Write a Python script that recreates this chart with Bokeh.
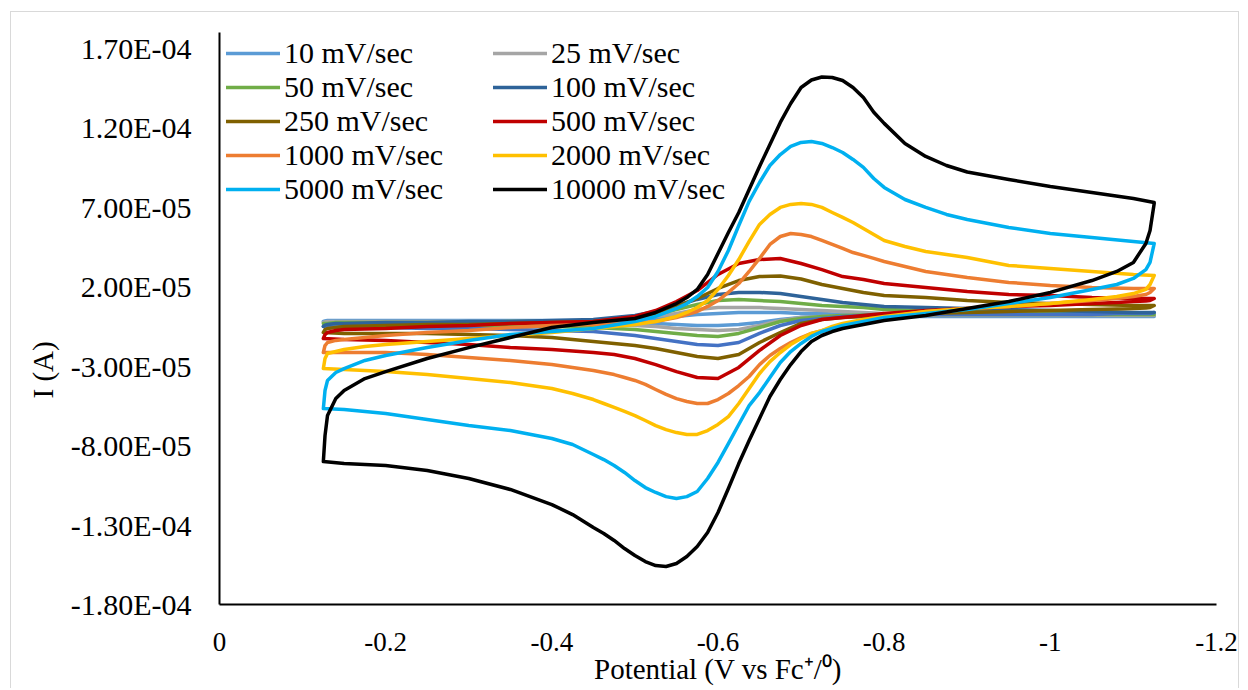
from bokeh.plotting import figure
from bokeh.models import (Range1d, FixedTicker, Legend, LegendItem, Title,
                          CustomJSTickFormatter)
from bokeh.embed import file_html
from bokeh.resources import INLINE

FONT = "Liberation Serif"

# Potential grids (V vs Fc+/0): forward (lower) branch and reverse (upper) branch
E_fwd = [-0.125, -0.15, -0.2, -0.25, -0.3, -0.35, -0.4, -0.45, -0.475, -0.5, -0.525,
         -0.55, -0.575, -0.6, -0.625, -0.65, -0.675, -0.7, -0.725, -0.75, -0.8, -0.85,
         -0.9, -0.95, -1.0, -1.05, -1.08, -1.1, -1.115, -1.12, -1.125]
E_rev = [-1.125, -1.1, -1.05, -1.0, -0.95, -0.9, -0.85, -0.8, -0.775, -0.75, -0.725,
         -0.7, -0.675, -0.65, -0.625, -0.6, -0.575, -0.55, -0.525, -0.5, -0.45, -0.4,
         -0.35, -0.3, -0.25, -0.2, -0.175, -0.15, -0.14, -0.13, -0.127, -0.125]
# denser potential grids used for the largest loops
E_fwd_fine = [-0.125, -0.15, -0.2, -0.25, -0.3, -0.35, -0.4, -0.425, -0.45, -0.4625, -0.475,
              -0.4875, -0.5, -0.5125, -0.525, -0.5375, -0.55, -0.5625, -0.575, -0.5875, -0.6,
              -0.6125, -0.625, -0.6375, -0.65, -0.6625, -0.675, -0.6875, -0.7, -0.7125, -0.725,
              -0.7375, -0.75, -0.775, -0.8, -0.85, -0.9, -0.95, -1.0, -1.05, -1.08, -1.1,
              -1.115, -1.12, -1.125]
E_rev_fine = [-1.125, -1.1, -1.05, -1.0, -0.95, -0.9, -0.875, -0.85, -0.825, -0.8, -0.7875,
              -0.775, -0.7625, -0.75, -0.7375, -0.725, -0.7125, -0.7, -0.6875, -0.675, -0.6625,
              -0.65, -0.6375, -0.625, -0.6125, -0.6, -0.5875, -0.575, -0.5625, -0.55, -0.525,
              -0.5, -0.45, -0.4, -0.35, -0.3, -0.25, -0.2, -0.175, -0.15, -0.14, -0.13, -0.127,
              -0.125]

# Currents in microamps
fwd_10 = [-1.9, -1.9, -1.9, -1.9, -1.9, -1.9, -1.9, -2.5, -2.5, -2.5, -3.1, -3.8, -4.4, -4.4, -3.8, -2.5, -0.6, 0.6, 1.3, 1.3, 1.3, 1.3, 1.3, 1.3, 1.3, 1.3, 1.3, 1.3, 1.3, 1.3, 1.3]
rev_10 = [1.3, 1.3, 1.3, 1.3, 1.3, 1.3, 1.3, 1.3, 1.9, 2.5, 3.1, 3.1, 3.8, 3.8, 3.8, 3.1, 2.5, 1.3, 0.0, -0.6, -1.3, -1.3, -1.3, -1.3, -1.3, -1.3, -1.3, -1.3, -1.3, -1.3, -1.6, -1.9]
fwd_25 = [-2.5, -2.5, -2.5, -3.1, -3.1, -3.1, -3.1, -3.8, -3.8, -4.4, -5.0, -6.3, -6.9, -7.6, -6.9, -4.4, -1.3, 0.6, 1.3, 1.9, 1.9, 1.9, 1.9, 1.9, 1.9, 1.9, 1.9, 1.9, 1.9, 1.9, 1.9]
rev_25 = [1.9, 1.9, 1.9, 1.9, 1.9, 1.9, 2.5, 3.1, 3.8, 4.4, 5.0, 5.7, 6.3, 6.9, 6.9, 6.9, 5.7, 3.1, 1.3, 0.0, -1.3, -1.9, -1.9, -1.9, -1.9, -1.9, -1.9, -1.9, -1.9, -1.9, -2.2, -2.5]
fwd_50 = [-3.1, -3.8, -3.8, -4.4, -4.4, -5.0, -5.0, -5.7, -6.3, -6.9, -8.2, -9.4, -10.7, -11.3, -9.4, -5.7, -1.9, 0.0, 1.3, 1.9, 2.5, 2.5, 2.5, 2.5, 2.5, 2.5, 2.5, 2.5, 2.5, 2.5, 2.5]
rev_50 = [2.5, 2.5, 3.1, 3.1, 3.8, 4.4, 5.0, 5.7, 6.9, 7.6, 8.2, 9.4, 10.7, 11.3, 12.0, 11.3, 8.8, 5.7, 2.5, 0.6, -1.3, -1.9, -1.9, -2.5, -2.5, -2.5, -2.5, -2.5, -2.5, -3.1, -3.1, -3.1]
fwd_100 = [-5.0, -5.7, -5.7, -6.3, -6.3, -6.9, -7.6, -8.2, -9.4, -10.7, -12.6, -14.5, -16.4, -17.0, -15.1, -9.4, -4.4, -1.3, 0.0, 1.3, 2.5, 2.5, 2.5, 2.5, 2.5, 2.5, 3.1, 3.1, 3.1, 3.1, 3.8]
rev_100 = [3.8, 3.8, 4.4, 5.0, 5.7, 6.3, 6.9, 7.6, 8.8, 10.1, 12.0, 13.8, 15.7, 16.4, 16.4, 15.1, 12.0, 8.2, 4.4, 1.9, -0.6, -1.3, -1.9, -1.9, -2.5, -2.5, -2.8, -3.1, -3.1, -3.8, -4.2, -5.0]
fwd_250 = [-8.8, -9.4, -9.4, -9.4, -10.1, -10.7, -12.0, -14.5, -15.7, -17.0, -18.9, -21.4, -23.9, -25.2, -22.7, -15.1, -8.8, -3.1, -0.6, 0.6, 1.9, 3.1, 3.8, 4.4, 5.0, 5.7, 6.0, 6.3, 6.6, 6.9, 8.2]
rev_250 = [8.2, 8.2, 8.8, 9.4, 10.1, 11.3, 13.2, 14.5, 16.4, 18.9, 21.4, 24.9, 26.8, 26.4, 23.9, 18.9, 12.6, 7.6, 3.8, 0.6, -1.9, -2.5, -3.1, -3.8, -3.8, -4.4, -4.7, -5.0, -5.7, -6.3, -7.0, -8.8]
fwd_500 = [-12.6, -13.2, -13.8, -15.1, -16.4, -18.3, -19.5, -21.4, -22.7, -25.2, -29.0, -33.4, -37.1, -37.8, -30.8, -20.1, -10.7, -4.4, -0.6, 0.6, 3.1, 5.0, 6.3, 7.6, 8.2, 9.4, 10.1, 10.7, 11.0, 11.3, 12.6]
rev_500 = [12.6, 12.6, 13.2, 14.5, 15.1, 17.0, 19.5, 22.0, 24.6, 26.4, 30.8, 34.6, 37.8, 37.1, 34.6, 27.7, 17.6, 10.7, 5.0, 1.3, -1.9, -2.5, -3.1, -4.4, -5.0, -6.3, -6.6, -6.9, -7.6, -8.8, -10.1, -12.6]
fwd_1000 = [-21.4, -21.4, -21.4, -22.7, -24.6, -26.4, -29.0, -30.8, -32.7, -34.0, -35.3, -37.1, -39.0, -41.5, -44.7, -47.8, -50.4, -52.2, -53.5, -53.5, -51.0, -47.2, -42.2, -36.5, -29.0, -23.3, -18.9, -15.1, -12.0, -9.4, -7.6, -5.7, -4.4, -1.9, 0.6, 4.4, 6.3, 7.6, 9.4, 11.3, 12.6, 13.8, 15.1, 16.4, 18.9]
rev_1000 = [18.9, 18.9, 19.5, 20.8, 22.7, 25.8, 27.7, 29.6, 32.7, 35.9, 37.8, 39.7, 41.5, 44.1, 46.6, 49.1, 51.6, 52.9, 53.5, 51.6, 46.6, 37.8, 29.6, 22.0, 16.4, 11.3, 7.6, 4.4, 2.5, 0.6, -1.9, -3.1, -3.8, -4.4, -5.7, -7.6, -8.8, -10.7, -11.9, -13.2, -13.8, -15.1, -17.0, -21.4]
fwd_2000 = [-31.5, -32.1, -33.4, -35.3, -37.8, -40.3, -44.1, -47.2, -51.0, -53.5, -56.0, -58.5, -61.1, -64.2, -67.4, -69.9, -71.8, -73.0, -73.0, -70.5, -66.7, -61.7, -53.5, -44.1, -34.6, -27.1, -21.4, -16.4, -12.6, -9.4, -7.6, -5.0, -3.1, -0.6, 1.3, 4.4, 6.3, 7.6, 9.4, 12.0, 13.8, 15.7, 18.3, 21.4, 27.1]
rev_2000 = [27.1, 27.7, 29.6, 31.5, 33.4, 38.4, 40.3, 42.2, 45.3, 49.1, 52.9, 56.7, 60.4, 63.6, 66.7, 69.9, 71.8, 72.4, 71.8, 69.9, 65.5, 59.2, 48.5, 37.1, 27.1, 18.3, 11.3, 6.9, 3.8, 1.3, -1.9, -3.8, -6.3, -8.8, -10.7, -12.6, -14.5, -16.4, -17.6, -19.5, -20.8, -22.0, -25.2, -31.5]
fwd_5000 = [-56.7, -57.3, -59.8, -63.6, -67.4, -70.5, -75.5, -79.3, -85.6, -88.8, -92.5, -96.9, -102.0, -106.4, -109.5, -112.1, -113.3, -112.1, -108.9, -100.7, -90.6, -78.7, -66.7, -54.8, -46.6, -37.1, -27.7, -20.8, -15.7, -11.3, -8.2, -6.3, -4.4, -1.9, 0.6, 3.1, 5.7, 9.4, 13.2, 18.3, 21.4, 25.2, 30.8, 35.3, 47.2]
rev_5000 = [47.2, 48.5, 51.0, 53.5, 57.3, 62.3, 65.5, 69.9, 74.9, 82.5, 88.1, 95.1, 100.1, 104.5, 107.6, 110.2, 111.4, 110.8, 108.3, 103.2, 96.3, 85.6, 73.7, 58.5, 42.8, 29.6, 19.5, 13.8, 9.4, 6.3, 1.3, -1.9, -6.3, -8.2, -10.1, -13.8, -18.3, -23.3, -26.4, -31.5, -34.0, -39.0, -45.3, -56.7]
fwd_10000 = [-90.0, -91.3, -92.5, -95.7, -100.7, -107.6, -117.1, -123.4, -131.6, -135.3, -139.7, -144.8, -149.2, -153.0, -155.5, -156.1, -154.2, -149.8, -143.5, -134.7, -122.1, -107.0, -91.3, -76.8, -62.9, -49.1, -38.4, -29.0, -20.8, -14.5, -10.7, -8.2, -6.3, -3.8, -1.3, 1.9, 6.3, 10.7, 16.4, 23.9, 29.6, 35.3, 47.2, 55.4, 72.4]
rev_10000 = [73.0, 75.5, 79.3, 83.1, 87.5, 92.2, 96.3, 102.0, 110.2, 122.8, 129.8, 139.1, 145.4, 149.8, 151.7, 152.0, 150.1, 145.4, 135.3, 123.4, 109.5, 95.7, 81.2, 66.7, 54.1, 40.9, 27.7, 18.3, 13.2, 9.4, 3.8, 0.0, -2.5, -5.7, -12.0, -18.3, -25.2, -33.4, -37.8, -45.3, -50.4, -61.1, -73.7, -90.0]

series_labels = ["10 mV/sec", "25 mV/sec", "50 mV/sec", "100 mV/sec", "250 mV/sec",
                 "500 mV/sec", "1000 mV/sec", "2000 mV/sec", "5000 mV/sec", "10000 mV/sec"]
series_fwd = [fwd_10, fwd_25, fwd_50, fwd_100, fwd_250, fwd_500, fwd_1000, fwd_2000, fwd_5000, fwd_10000]
series_rev = [rev_10, rev_25, rev_50, rev_100, rev_250, rev_500, rev_1000, rev_2000, rev_5000, rev_10000]
colors_upper = ["#5B9BD5", "#A5A5A5", "#70AD47", "#2E6399", "#7F6000",
                "#C00000", "#ED7D31", "#FFC000", "#00B0F0", "#000000"]
colors_lower = ["#5B9BD5", "#A5A5A5", "#70AD47", "#4472C4", "#7F6000",
                "#C00000", "#ED7D31", "#FFC000", "#00B0F0", "#000000"]

x_ticks = [0, -0.2, -0.4, -0.6, -0.8, -1.0, -1.2]
x_tick_labels = ["0", "-0.2", "-0.4", "-0.6", "-0.8", "-1", "-1.2"]
y_ticks = [-1.8e-4, -1.3e-4, -8e-5, -3e-5, 2e-5, 7e-5, 1.2e-4, 1.7e-4]
y_tick_labels = ["-1.80E-04", "-1.30E-04", "-8.00E-05", "-3.00E-05",
                 "2.00E-05", "7.00E-05", "1.20E-04", "1.70E-04"]

p = figure(width=1229, height=677, output_backend="svg", toolbar_location=None,
           x_range=Range1d(0, -1.2), y_range=Range1d(-1.8e-4, 1.8e-4),
           min_border_left=208, min_border_right=24, min_border_top=20, min_border_bottom=85)
p.styles = {"border-top": "1px solid #D9D9D9", "border-left": "1px solid #D9D9D9",
            "border-right": "1px solid #D9D9D9", "margin-left": "10px", "margin-top": "11px"}
p.outline_line_color = None
p.background_fill_color = "white"
p.border_fill_color = "white"
p.xgrid.visible = False
p.ygrid.visible = False

renderers = []
for lab, f, r, cu, cl in zip(series_labels, series_fwd, series_rev, colors_upper, colors_lower):
    ef = E_fwd_fine if len(f) == len(E_fwd_fine) else E_fwd
    er = E_rev_fine if len(r) == len(E_rev_fine) else E_rev
    if cu == cl:
        rr = p.line(ef + er, [v * 1e-6 for v in f + r], line_color=cu, line_width=3.5,
                    line_join="round", line_cap="round")
    else:
        p.line(ef, [v * 1e-6 for v in f], line_color=cl, line_width=3.5,
               line_join="round", line_cap="round")
        rr = p.line(er, [v * 1e-6 for v in r], line_color=cu, line_width=3.5,
                    line_join="round", line_cap="round")
    renderers.append(rr)

fmt_code = """
let best = 0, bd = Infinity;
for (let i = 0; i < tvals.length; i++) {
  const d = Math.abs(tvals[i] - tick);
  if (d < bd) { bd = d; best = i; }
}
return tlabels[best];
"""
p.xaxis.ticker = FixedTicker(ticks=x_ticks)
p.xaxis.formatter = CustomJSTickFormatter(args=dict(tvals=x_ticks, tlabels=x_tick_labels), code=fmt_code)
p.yaxis.ticker = FixedTicker(ticks=y_ticks)
p.yaxis.formatter = CustomJSTickFormatter(args=dict(tvals=y_ticks, tlabels=y_tick_labels), code=fmt_code)

for ax in (p.xaxis[0], p.yaxis[0]):
    ax.axis_line_color = "black"
    ax.axis_line_width = 2
    ax.major_tick_line_color = None
    ax.minor_tick_line_color = None
    ax.major_tick_out = 0
    ax.major_tick_in = 0
    ax.minor_tick_out = 0
    ax.minor_tick_in = 0
    ax.major_label_text_font = FONT
    ax.major_label_text_color = "black"
    ax.axis_label_text_font = FONT
    ax.axis_label_text_font_style = "normal"
    ax.axis_label_text_color = "black"

p.yaxis.major_label_text_font_size = "30px"
p.yaxis.major_label_standoff = 28
p.xaxis.major_label_text_font_size = "27px"
p.xaxis.major_label_standoff = 28
p.xaxis.axis_label = "Potential (V vs Fc\u207a/\u2070)"
p.xaxis.axis_label_text_font_size = "29px"
p.xaxis.axis_label_standoff = -1

# y-axis title, placed in the left panel outside the tick labels
p.add_layout(Title(text="I (A)", align="left", offset=206, vertical_align="middle",
                   standoff=15, text_font=FONT, text_font_size="29px",
                   text_font_style="normal", text_color="black"), "left")

col1 = [0, 2, 4, 6, 8]
col2 = [1, 3, 5, 7, 9]
for cols, xoff in ((col1, 7), (col2, 274)):
    leg = Legend(items=[LegendItem(label=series_labels[i], renderers=[renderers[i]]) for i in cols],
                 location=(xoff, 398), orientation="vertical",
                 label_text_font=FONT, label_text_font_size="30px", label_text_color="black",
                 glyph_width=54, glyph_height=34, label_height=34, label_standoff=4,
                 spacing=0, padding=0, margin=0,
                 border_line_color=None, background_fill_alpha=0)
    p.add_layout(leg)

open("out.html", "w").write(file_html(p, INLINE))
